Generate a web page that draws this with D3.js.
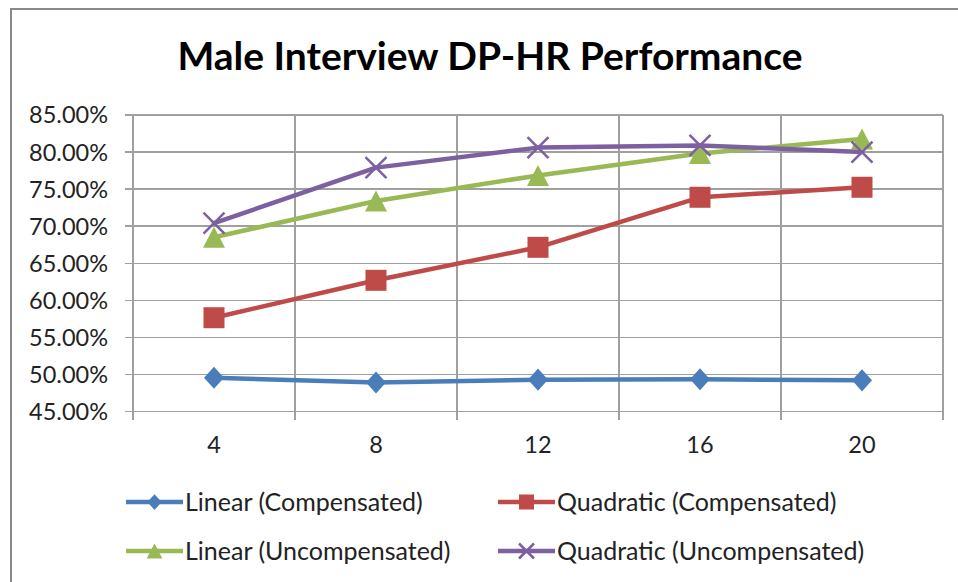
<!DOCTYPE html>
<html><head><meta charset="utf-8">
<script src="https://cdn.jsdelivr.net/npm/d3@7"></script>
<style>body{margin:0;background:#fff}svg{display:block}</style></head>
<body><svg id="c" width="958" height="582"></svg>
<script>
const title = "Male Interview DP-HR Performance";
const categories = ["4", "8", "12", "16", "20"];
const seriesNames = ["Linear (Compensated)", "Quadratic (Compensated)", "Linear (Uncompensated)", "Quadratic (Uncompensated)"];
const linearCompensated = [49.55, 48.9, 49.3, 49.35, 49.2];
const quadraticCompensated = [57.65, 62.7, 67.15, 73.9, 75.25];
const linearUncompensated = [68.5, 73.4, 76.85, 79.8, 81.75];
const quadraticUncompensated = [70.4, 77.9, 80.6, 80.9, 80.0];
const yTicks = [45, 50, 55, 60, 65, 70, 75, 80, 85];
const colors = ["#4A7EBB", "#BE4B48", "#98B954", "#7D60A0"];
const markers = ["diamond", "square", "triangle", "x"];

const svg = d3.select("#c");
const FONT = "Lato, 'Open Sans', sans-serif";
const M = {left: 133, right: 943, top: 115, bottom: 411.5};

// outer chart border
svg.append("rect").attr("x", 11).attr("y", 9).attr("width", 960).attr("height", 600)
  .attr("fill", "#fff").attr("stroke", "#898989").attr("stroke-width", 2);

svg.append("text").attr("x", 490).attr("y", 70).attr("text-anchor", "middle")
  .attr("font-family", FONT).attr("font-weight", "bold").attr("font-size", 39)
  .attr("fill", "#000").text(title);

const x = d3.scaleBand().domain(categories).range([M.left, M.right]).padding(0);
const y = d3.scaleLinear().domain([45, 85]).range([M.bottom, M.top]);

const grid = svg.append("g").attr("stroke", "#A0A0A0").attr("stroke-width", 1.5).attr("shape-rendering", "crispEdges");
grid.selectAll("line.h").data(yTicks).join("line").attr("class", "h")
  .attr("x1", M.left - 8).attr("x2", M.right).attr("y1", d => y(d)).attr("y2", d => y(d));
const bounds = categories.map(c => x(c)).concat([x(categories[categories.length - 1]) + x.bandwidth()]);
grid.selectAll("line.v").data(bounds).join("line").attr("class", "v")
  .attr("x1", d => d).attr("x2", d => d).attr("y1", M.top).attr("y2", M.bottom + 8);

svg.append("g").selectAll("text").data(yTicks).join("text")
  .attr("x", 108).attr("y", d => y(d)).attr("dy", "0.36em").attr("text-anchor", "end")
  .attr("font-family", FONT).attr("font-size", 23.5).attr("fill", "#222")
  .text(d => d.toFixed(2) + "%");
svg.append("g").selectAll("text").data(categories).join("text")
  .attr("x", d => x(d) + x.bandwidth() / 2).attr("y", 445).attr("dy", "0.36em").attr("text-anchor", "middle")
  .attr("font-family", FONT).attr("font-size", 23.5).attr("fill", "#222")
  .text(d => d);

function markerPath(type, s) {
  const p = d3.path();
  if (type === "diamond") { const w = s * 0.95, h = s * 1.05; p.moveTo(0, -h/2); p.lineTo(w/2, 0); p.lineTo(0, h/2); p.lineTo(-w/2, 0); p.closePath(); }
  else if (type === "square") { p.rect(-s/2, -s/2, s, s); }
  else if (type === "triangle") { const w = s * 1.05, h = s; p.moveTo(0, -h/2); p.lineTo(w/2, h/2); p.lineTo(-w/2, h/2); p.closePath(); }
  else { const r = s / 2; p.moveTo(-r, -r); p.lineTo(r, r); p.moveTo(r, -r); p.lineTo(-r, r); }
  return p.toString();
}
function drawMarker(g, type, color, s) {
  if (type === "x") g.append("path").attr("d", markerPath(type, s)).attr("fill", "none").attr("stroke", color).attr("stroke-width", 2.5);
  else g.append("path").attr("d", markerPath(type, s)).attr("fill", color).attr("stroke", "none");
}

const allSeries = [linearCompensated, quadraticCompensated, linearUncompensated, quadraticUncompensated];
const line = d3.line().x((d, i) => x(categories[i]) + x.bandwidth() / 2).y(d => y(d));
allSeries.forEach((vals, si) => {
  const g = svg.append("g");
  g.append("path").attr("d", line(vals)).attr("fill", "none").attr("stroke", colors[si])
    .attr("stroke-width", 4.5).attr("stroke-linejoin", "round").attr("stroke-linecap", "round");
  vals.forEach((v, i) => {
    const mg = g.append("g").attr("transform", `translate(${x(categories[i]) + x.bandwidth() / 2},${y(v)})`);
    drawMarker(mg, markers[si], colors[si], 21);
  });
});

const legPos = [[126, 502], [498, 502], [126, 551], [498, 551]];
seriesNames.forEach((name, si) => {
  const [lx, ly] = legPos[si];
  const g = svg.append("g").attr("transform", `translate(${lx},${ly})`);
  g.append("line").attr("x1", 0).attr("x2", 57).attr("y1", 0).attr("y2", 0)
    .attr("stroke", colors[si]).attr("stroke-width", 4.5);
  const mg = g.append("g").attr("transform", "translate(28.5,0)");
  drawMarker(mg, markers[si], colors[si], 15);
  g.append("text").attr("x", 59).attr("y", 0).attr("dy", "0.36em")
    .attr("font-family", FONT).attr("font-size", 25).attr("fill", "#222").text(name);
});
</script></body></html>
